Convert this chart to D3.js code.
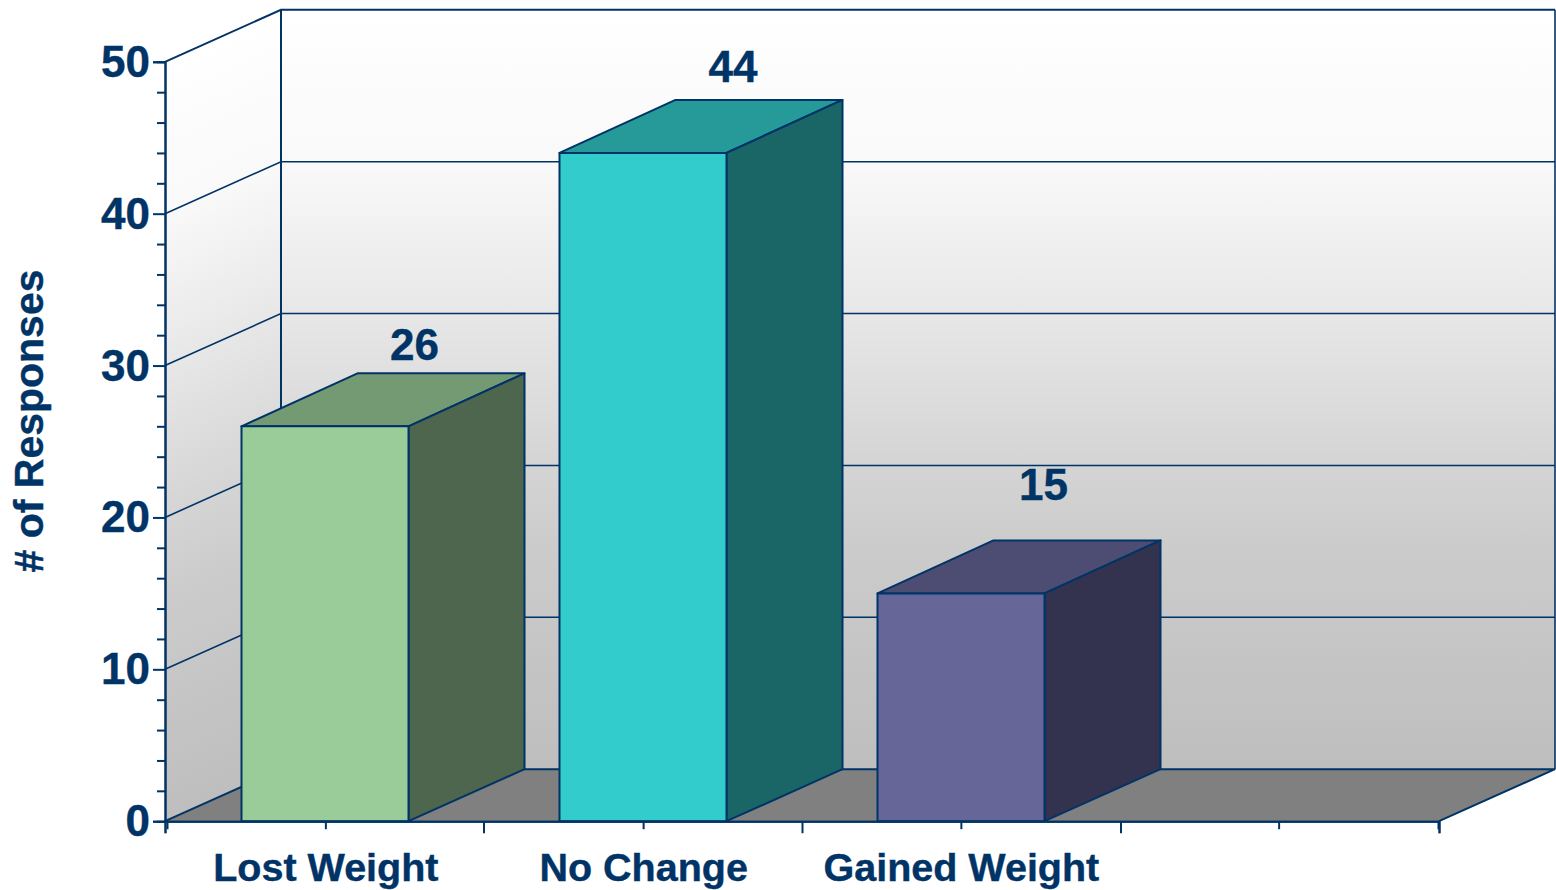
<!DOCTYPE html>
<html><head><meta charset="utf-8">
<script src="https://cdn.jsdelivr.net/npm/d3@7/dist/d3.min.js"></script>
<style>html,body{margin:0;padding:0;background:#fff}svg{display:block}
text{font-family:"Liberation Sans",Arial,sans-serif;font-weight:700;fill:#003366;stroke:#003366;stroke-width:.4px}</style>
</head><body><svg id="c" width="1556" height="890"></svg>
<script>
const categories = ["Lost Weight","No Change","Gained Weight",""];
const responses = [26,44,15];
const fronts = ["#99cc99","#33cccc","#666699"];
const tops = ["#739a73","#269999","#4d4d73"];
const sides = ["#4d664d","#1a6666","#333350"];
const yTicks = [0,10,20,30,40,50];
const yMinor = [2,4,6,8,12,14,16,18,22,24,26,28,32,34,36,38,42,44,46,48];

const INK="#003366", DX=116, DY=-52, TOP_DY=-53, BAR=167;
const labelShift=[[173,-66],[173.5,-71],[166,-93]];
const wallStops=[[0,"#ffffff"],[.2,"#f9f9f9"],[.39,"#e8e8e8"],[.58,"#d6d6d6"],[.7,"#cccccc"],[1,"#bebebe"]];
const svg=d3.select("#c");
const y=d3.scaleLinear().domain([0,50]).range([821.2,61.8]);
const xBar=d3.scaleBand().domain(categories).range([166,1438]).paddingInner(0);
const xTick=d3.scaleBand().domain(categories).range([167,1438]).paddingInner(0);
const x0=165, x1=1439;
const pts=a=>a.map(p=>p.join(",")).join(" ");

const defs=svg.append("defs");
function grad(id,y1,y2,tr){
  const g=defs.append("linearGradient").attr("id",id).attr("gradientUnits","userSpaceOnUse")
    .attr("x1",0).attr("x2",0).attr("y1",y1).attr("y2",y2);
  if(tr) g.attr("gradientTransform",tr);
  wallStops.forEach(s=>g.append("stop").attr("offset",s[0]).attr("stop-color",s[1]));
}
grad("back",y(50)+DY,y(0)+DY);
const k=DY/DX;
grad("left",y(50),y(0),`matrix(1,${k},0,1,0,${-k*165})`);

svg.append("polygon").attr("points",pts([[x0,y(0)],[x0+DX,y(0)+DY],[x0+DX,y(50)+DY],[x0,y(50)]])).attr("fill","url(#left)");
svg.append("rect").attr("x",x0+DX).attr("y",y(50)+DY).attr("width",x1-x0).attr("height",y(0)-y(50)).attr("fill","url(#back)");
svg.append("polygon").attr("points",pts([[x0,y(0)],[x1,y(0)],[x1+DX,y(0)+DY],[x0+DX,y(0)+DY]])).attr("fill","#808080");

const line=(a,w)=>svg.append("polyline").attr("points",pts(a)).attr("fill","none").attr("stroke",INK).attr("stroke-width",w||1.6);
yTicks.forEach(t=>{
  if(t===0) return;
  line([[x0,y(t)],[x0+DX,y(t)+DY],[x1+DX,y(t)+DY]],t===50?2:1.6);
});
line([[x0+DX,y(50)+DY],[x0+DX,y(0)+DY]],2);
line([[x1+DX,y(50)+DY],[x1+DX,y(0)+DY]],1.6);
line([[x0,y(0)],[x0+DX,y(0)+DY],[x1+DX,y(0)+DY],[x1,y(0)]],2);

// bars
responses.forEach((v,i)=>{
  const c=categories[i], l=xBar(c)+xBar.bandwidth()/2-BAR/2, r=l+BAR, t=y(v), b=y(0);
  const g=svg.append("g").attr("stroke",INK).attr("stroke-width",2).attr("stroke-linejoin","round");
  g.append("polygon").attr("points",pts([[l,t],[r,t],[r+DX,t+TOP_DY],[l+DX,t+TOP_DY]])).attr("fill",tops[i]);
  g.append("polygon").attr("points",pts([[r,t],[r+DX,t+TOP_DY],[r+DX,b+DY],[r,b]])).attr("fill",sides[i]);
  g.append("rect").attr("x",l).attr("y",t).attr("width",BAR).attr("height",b-t).attr("fill",fronts[i]);
  svg.append("text").attr("x",l+labelShift[i][0]).attr("y",t+labelShift[i][1])
    .attr("text-anchor","middle").attr("font-size",44).text(v);
});

// axes
const axL=svg.append("g").attr("transform",`translate(${x0},0)`)
  .call(d3.axisLeft(y).tickValues(yTicks).tickSize(12).tickPadding(3).tickFormat(d3.format("d")));
axL.selectAll("text").attr("font-size",44).attr("font-family",null).style("fill",INK).attr("dy","0.33em");
const axM=svg.append("g").attr("transform",`translate(${x0},0)`)
  .call(d3.axisLeft(y).tickValues(yMinor).tickSize(8).tickFormat(""));
const bounds=d3.scaleLinear().domain([0,4]).range([x0,x1]);
const axB=svg.append("g").attr("transform",`translate(0,${y(0)})`)
  .call(d3.axisBottom(bounds).tickValues([0,1,2,3,4]).tickSize(12).tickFormat(""));
const axC=svg.append("g").attr("transform",`translate(0,${y(0)})`)
  .call(d3.axisBottom(xTick).tickSize(8).tickPadding(24).tickFormat(d=>d));
axC.selectAll("text").attr("font-size",39.5).attr("font-family",null).style("fill",INK);
[axL,axM,axB,axC].forEach(a=>{
  a.attr("font-family",null).attr("font-size",null);
  a.selectAll("line,path").attr("stroke",INK).attr("stroke-width",2);
});

svg.append("text").attr("transform","translate(43,421) rotate(-90)").attr("text-anchor","middle").attr("font-size",41).text("# of Responses");
</script></body></html>
